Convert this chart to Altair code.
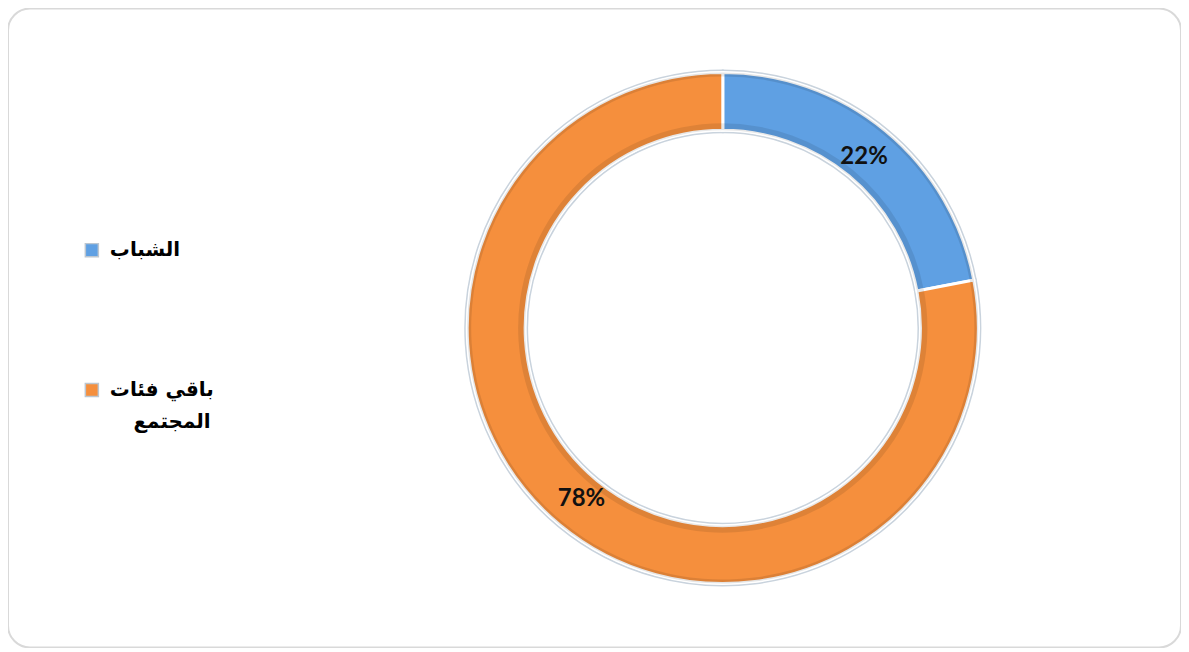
import altair as alt
import pandas as pd

categories = ["الشباب", "باقي فئات المجتمع"]
values = [22, 78]
labels = ["22%", "78%"]
colors = ["#5fa0e3", "#f58f3d"]

# legend rows (text lines as shown in the reference legend)
legend_first_lines = ["الشباب", "باقي فئات"]
legend_second_lines = ["المجتمع"]
legend_symbol_row = [0.0, 1.0]
legend_second_row = [1.23]

df = pd.DataFrame({"cat": categories, "value": values, "label": labels, "order": [0, 1]})
leg_sym = pd.DataFrame({"cat": categories, "row": legend_symbol_row})
leg_txt1 = pd.DataFrame({"line": legend_first_lines, "row": legend_symbol_row})
leg_txt2 = pd.DataFrame({"line": legend_second_lines, "row": legend_second_row})

CX, CY = 716, 320

base = alt.Chart(df).encode(
    theta=alt.Theta("value:Q", stack=True),
    order=alt.Order("order:Q"),
)

ring_shadow = base.mark_arc(
    innerRadius=196, outerRadius=258, stroke="#c9d3dd", strokeWidth=2, fill="#ffffff"
).encode(x=alt.value(CX), y=alt.value(CY))

color_enc = alt.Color(
    "cat:N", scale=alt.Scale(domain=categories, range=colors), legend=None
)

ring = base.mark_arc(
    innerRadius=198, outerRadius=256, stroke="#ffffff", strokeWidth=3
).encode(x=alt.value(CX), y=alt.value(CY), color=color_enc)

inner_edge = base.mark_arc(
    innerRadius=198, outerRadius=205, strokeWidth=0, opacity=0.09, fill="#000000"
).encode(x=alt.value(CX), y=alt.value(CY))

outer_edge = base.mark_arc(
    innerRadius=252, outerRadius=256, strokeWidth=0, opacity=0.10, fill="#000000"
).encode(x=alt.value(CX), y=alt.value(CY))

text = base.mark_text(
    font="Lato", fontWeight="bold", fontSize=24, color="#111111"
).encode(x=alt.value(CX), y=alt.value(CY), radius=alt.value(222), text="label:N")

yscale = alt.Scale(domain=[0, 1], range=[242, 382])

leg_symbols = alt.Chart(leg_sym).mark_square(
    size=170, opacity=1, stroke="#bcc6d0", strokeWidth=1.5
).encode(
    x=alt.value(84),
    y=alt.Y("row:Q", scale=yscale, axis=None),
    color=alt.Color("cat:N", scale=alt.Scale(domain=categories, range=colors), legend=None),
)

leg_text1 = alt.Chart(leg_txt1).mark_text(
    font="DejaVu Sans", fontWeight="bold", fontSize=20, color="#000000",
    align="left", baseline="middle",
).encode(
    x=alt.value(102),
    y=alt.Y("row:Q", scale=yscale, axis=None),
    text="line:N",
)

leg_text2 = alt.Chart(leg_txt2).mark_text(
    font="DejaVu Sans", fontWeight="bold", fontSize=20, color="#000000",
    align="right", baseline="middle",
).encode(
    x=alt.value(203),
    y=alt.Y("row:Q", scale=yscale, axis=None),
    text="line:N",
)

chart = (
    alt.layer(ring_shadow, ring, inner_edge, outer_edge, text, leg_symbols, leg_text1, leg_text2)
    .properties(width=1175, height=640, autosize=alt.AutoSizeParams(type="none"), padding=0)
    .configure_view(stroke="#d9d9d9", strokeWidth=2, cornerRadius=22)
)

chart.save("out.html", embed_options={"renderer": "svg", "actions": False})
